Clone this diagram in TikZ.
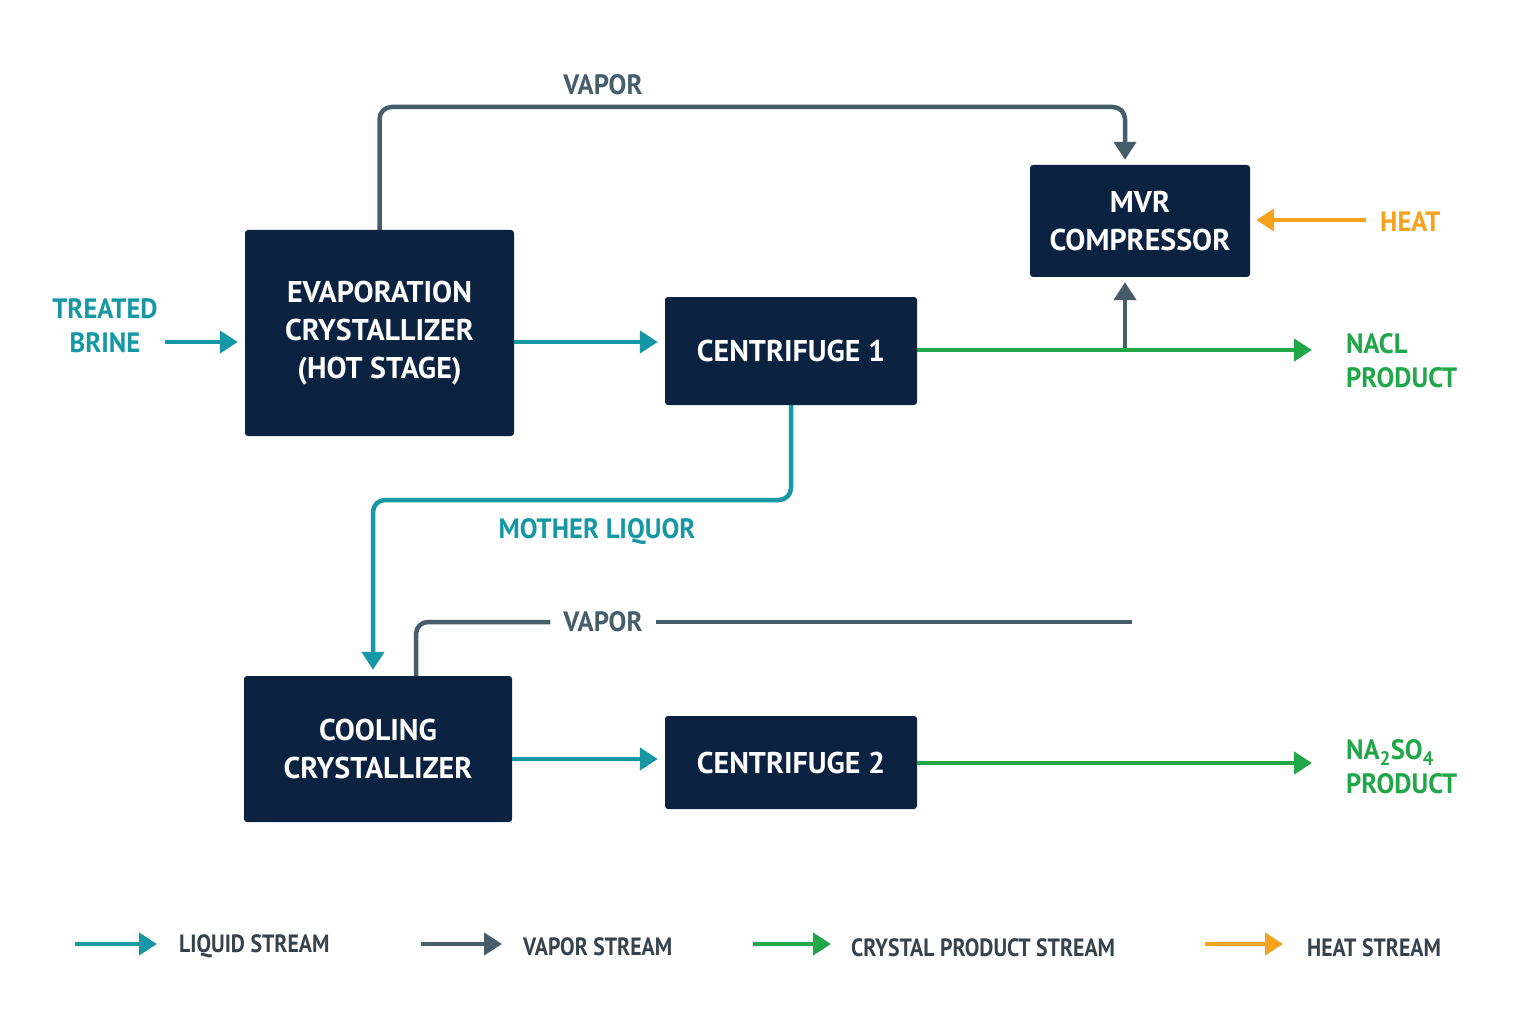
\documentclass[tikz,border=0pt]{standalone}
\usepackage{fontspec}
\setmainfont{PT Sans}[FakeStretch=0.95]
\newfontfamily\boxfont{PT Sans}
\newfontfamily\legfont{PT Sans}[FakeStretch=0.87]
\usetikzlibrary{arrows.meta}
\definecolor{navy}{HTML}{0B2240}
\definecolor{liqc}{HTML}{1597A5}
\definecolor{vapc}{HTML}{465D6C}
\definecolor{prodc}{HTML}{22A64A}
\definecolor{heatc}{HTML}{F5A31F}
\definecolor{legc}{HTML}{36424C}
\tikzset{
  unit/.style={draw=none,fill=navy,rounded corners=3pt,text=white,align=center,
    font=\boxfont\bfseries\fontsize{30}{38}\selectfont,inner sep=0pt},
  flow/.style={line width=4.5pt,rounded corners=12pt},
  tipped/.style={-{Triangle[length=18pt,width=22pt]}},
  liq/.style={flow,draw=liqc},
  vap/.style={flow,draw=vapc},
  prod/.style={flow,draw=prodc},
  heat/.style={flow,draw=heatc},
  lab/.style={font=\bfseries\fontsize{28}{34}\selectfont,align=left,inner sep=0pt},
  leg/.style={font=\legfont\bfseries\fontsize{25}{28}\selectfont,text=legc,anchor=west,inner sep=0pt},
}
\begin{document}
\begin{tikzpicture}[x=1pt,y=-1pt]
\useasboundingbox[fill=white] (0,0) rectangle (1536,1024);

% units
\node[unit,minimum width=269pt,minimum height=206pt] (evap) at (379.5,333) {EVAPORATION\\CRYSTALLIZER\\(HOT STAGE)};
\node[unit,minimum width=252pt,minimum height=108pt] (cent1) at (791,351) {CENTRIFUGE 1};
\node[unit,minimum width=220pt,minimum height=112pt] (mvr) at (1140,221) {MVR\\COMPRESSOR};
\node[unit,minimum width=268pt,minimum height=146pt] (cool) at (378,749) {COOLING\\CRYSTALLIZER};
\node[unit,minimum width=252pt,minimum height=93pt] (cent2) at (791,762.5) {CENTRIFUGE 2};

% labels
\node[lab,text=liqc,align=center] (brine) at (105,326) {TREATED\\BRINE};
\node[lab,text=vapc] (vtop) at (603,85) {VAPOR};
\node[lab,text=heatc,anchor=west] (heatl) at (1380,222) {HEAT};
\node[lab,text=prodc,anchor=west] (nacl) at (1346,361) {NACL\\PRODUCT};
\node[lab,text=liqc] (ml) at (597,532) {MOTHER LIQUOR};
\node[lab,text=vapc,inner xsep=13pt] (vbot) at (603,622) {VAPOR};
\node[lab,text=prodc,anchor=west] (naso) at (1346,767) {NA\textsubscript{2}SO\textsubscript{4}\\PRODUCT};

% coordinates for free ends and junctions
\coordinate (bs) at (165,342);
\coordinate (e1) at ([yshift=-9pt]evap.east);
\coordinate (vt) at (379.5,107);
\coordinate (mvrin) at ([xshift=-15pt]mvr.north);
\coordinate (jn) at (1125,350);
\coordinate (naclend) at (1312,350);
\coordinate (hs) at (1366,220);
\coordinate (ml1) at (791,500);
\coordinate (coolin) at ([xshift=-5pt]cool.north);
\coordinate (coolv) at ([xshift=38pt]cool.north);
\coordinate (vend) at (1132,622);
\coordinate (c2) at ([yshift=-10pt]cool.east);
\coordinate (nasoend) at (1312,763);

% liquid
\draw[liq,tipped,shorten >=7pt] (bs) -- (bs -| evap.west);
\draw[liq,tipped,shorten >=7pt] (e1) -- (e1 -| cent1.west);
\draw[liq,tipped,shorten >=6pt] (cent1.south) -- (ml1) -| (coolin);
\draw[liq,tipped,shorten >=7pt] (c2) -- (c2 -| cent2.west);

% vapor
\draw[vap,tipped,shorten >=5pt] (evap.north) -- (vt) -| (mvrin);
\draw[vap,tipped,shorten >=5pt] (jn) -- (jn |- mvr.south);
\draw[vap] (coolv) |- (vbot.west);
\draw[vap] (vbot.east) -- (vend);

% products
\draw[prod,tipped] (jn -| cent1.east) -- (naclend);
\draw[prod,tipped] (nasoend -| cent2.east) -- (nasoend);

% heat
\draw[heat,tipped,shorten >=6pt] (hs) -- (hs -| mvr.east);

% legend
\coordinate (l1) at (75,944);
\coordinate (l2) at (421,944);
\coordinate (l3) at (753,944);
\coordinate (l4) at (1205,944);
\node[leg] (t1) at (179,946) {LIQUID STREAM};
\node[leg] (t2) at (523,947) {VAPOR STREAM};
\node[leg] (t3) at (851,948) {CRYSTAL PRODUCT STREAM};
\node[leg] (t4) at (1307,948) {HEAT STREAM};
\draw[liq,tipped] (l1) -- ([xshift=-22pt]l1 -| t1.west);
\draw[vap,tipped] (l2) -- ([xshift=-21pt]l2 -| t2.west);
\draw[prod,tipped] (l3) -- ([xshift=-20pt]l3 -| t3.west);
\draw[heat,tipped] (l4) -- ([xshift=-24pt]l4 -| t4.west);
\end{tikzpicture}
\end{document}
